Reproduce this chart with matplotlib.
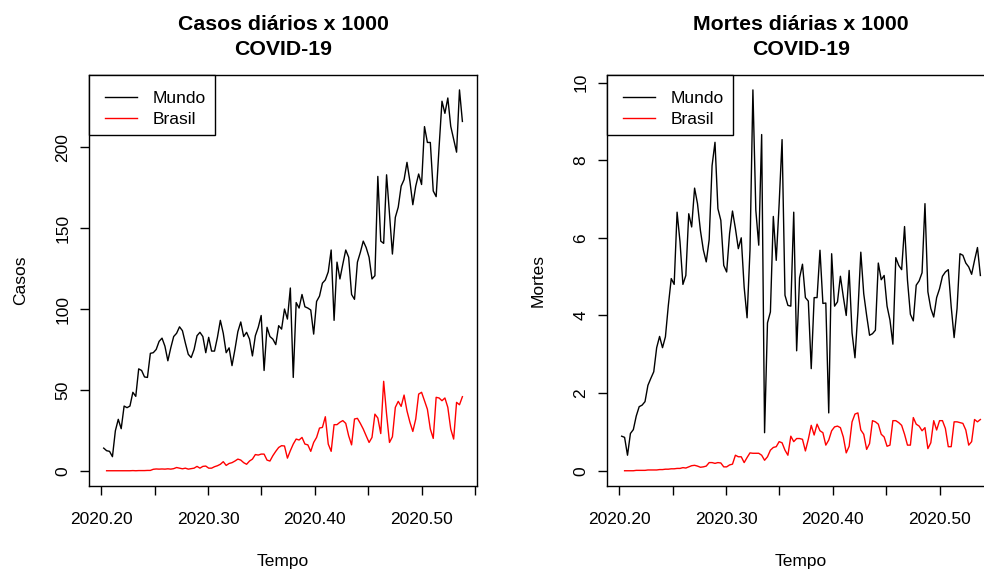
import numpy as np
import matplotlib
matplotlib.use("Agg")
import matplotlib.pyplot as plt
from matplotlib.lines import Line2D
from matplotlib.legend_handler import HandlerLine2D

plt.rcParams['font.family'] = ['Liberation Sans', 'DejaVu Sans']
plt.rcParams['font.size'] = 12.5

# datas em ano decimal (2020 tem 366 dias)
ano = 2020
dia_inicial = 74
dias_ano = 366

# casos diarios x 1000
casos_mundo = [14, 12.4, 12, 8.7, 24.7, 31.8, 26, 40, 39, 40,
               48.5, 46, 63, 62, 58, 57.7, 72.6, 73, 75, 80,
               82, 77, 68, 76, 83, 85, 89, 86.6, 79, 72,
               70, 75, 83.5, 85.6, 83, 73, 82.5, 74, 74, 82.5,
               93, 85, 73, 76, 65, 75, 86, 92, 83, 85.6,
               81.4, 71, 83.5, 88.7, 96, 62, 88.7, 83, 81.4, 78,
               89.7, 87.6, 100, 93.8, 113, 57.7, 104, 100.6, 109, 101.4,
               100.6, 99.4, 84.5, 104.7, 108, 116, 118, 123, 136.5, 93,
               129, 118.6, 127.8, 136.5, 132, 109, 106, 129, 135, 142,
               138, 132, 118.6, 120.6, 182, 142, 140.6, 183, 158.8, 134,
               156.7, 163, 176, 180, 190.7, 179, 164.5, 176, 183.5, 177,
               212.8, 203, 203, 173, 169.5, 200, 228.5, 221, 230.5, 213,
               205, 197, 235.5, 216]
casos_brasil = [0, 0, 0, 0, 0, 0, 0, 0, 0, 0.1,
                0, 0.1, 0.1, 0.1, 0.2, 0.2, 0.9, 1.1, 1.0, 1.1,
                1.0, 1.2, 1.0, 1.3, 2, 1.6, 1.2, 1.6, 1, 1.3,
                1.6, 2.7, 1.6, 2.7, 2.9, 1.6, 1.6, 2.5, 3.1, 4,
                5.6, 3.3, 4.5, 5, 6, 7.2, 6.6, 5, 4, 6,
                7.2, 10, 9.7, 10.3, 10.3, 6.6, 6, 9.3, 12, 14.4,
                15.5, 15.3, 7.8, 12.4, 16.5, 19.6, 19, 20.6, 16.5, 16,
                12, 17.5, 20.6, 26.4, 26.8, 33.4, 16.5, 12, 28.5, 28.5,
                30, 31, 29.3, 21.6, 16, 32, 32.4, 29.3, 25.8, 21.6,
                17.5, 20.6, 35, 32.6, 23, 55.3, 35, 17.5, 21, 39.2,
                42.9, 39.8, 46.8, 37, 30, 24.3, 32, 47.4, 48.5, 43.3,
                38, 25.8, 20, 45.4, 45, 43.3, 45, 39.2, 25.8, 19.6,
                42.3, 40.8, 45.8]

# mortes diarias x 1000
mortes_mundo = [0.89, 0.86, 0.40, 0.96, 1.06, 1.41, 1.65, 1.69, 1.78, 2.2,
                2.38, 2.55, 3.17, 3.46, 3.17, 3.45, 4.26, 4.95, 4.8, 6.66,
                5.9, 4.8, 5.03, 6.62, 6.28, 7.28, 6.88, 6.19, 5.69, 5.38,
                5.95, 7.86, 8.46, 6.75, 6.45, 5.29, 5.12, 6.11, 6.69, 6.24,
                5.72, 6.0, 4.73, 3.94, 5.68, 9.81, 6.71, 5.81, 8.66, 0.98,
                3.81, 4.09, 6.55, 5.42, 6.88, 8.53, 4.52, 4.26, 4.24, 6.66,
                3.09, 4.97, 5.32, 4.46, 4.37, 2.63, 4.46, 4.46, 5.68, 4.31,
                4.32, 1.49, 5.59, 4.24, 4.35, 5.01, 4.48, 4.0, 5.16, 3.55,
                2.91, 4.09, 5.63, 4.56, 4.0, 3.49, 3.53, 3.62, 5.35, 4.92,
                5.03, 4.24, 3.88, 3.26, 5.49, 5.29, 5.18, 6.29, 4.91, 4.03,
                3.86, 4.78, 4.89, 5.10, 6.88, 4.61, 4.18, 3.96, 4.46, 4.69,
                5.01, 5.12, 5.18, 4.22, 3.43, 4.18, 5.59, 5.55, 5.35, 5.25,
                5.06, 5.42, 5.75, 5.03]
mortes_brasil = [0, 0, 0, 0, 0.01, 0.01, 0.01, 0.01, 0.02, 0.02,
                 0.02, 0.02, 0.03, 0.03, 0.04, 0.04, 0.05,
                 0.05, 0.06, 0.06, 0.08, 0.07, 0.1, 0.13, 0.14, 0.12, 0.09,
                 0.1, 0.12, 0.21, 0.21, 0.19, 0.21, 0.2, 0.1, 0.1, 0.15,
                 0.17, 0.4, 0.36, 0.36, 0.21, 0.34, 0.46, 0.45, 0.45, 0.45,
                 0.4, 0.27, 0.36, 0.53, 0.6, 0.62, 0.75, 0.72, 0.53, 0.4,
                 0.89, 0.75, 0.83, 0.83, 0.81, 0.51, 0.81, 1.17, 0.92, 1.2,
                 1.03, 0.98, 0.66, 0.79, 1.03, 1.13, 1.15, 1.11, 0.87, 0.46,
                 0.63, 1.26, 1.46, 1.49, 1.05, 0.94, 0.55, 0.7, 1.29, 1.26,
                 1.2, 0.94, 0.87, 0.63, 0.66, 1.29, 1.29, 1.24, 1.17, 0.94,
                 0.66, 0.66, 1.37, 1.2, 1.15, 1.03, 1.11, 0.57, 0.72, 1.29,
                 1.05, 1.29, 1.29, 1.09, 0.62, 0.62, 1.26, 1.26, 1.24, 1.22,
                 1.05, 0.66, 0.75, 1.32, 1.26, 1.32]

x_ticks = [2020.20, 2020.25, 2020.30, 2020.35, 2020.40, 2020.45, 2020.50, 2020.55]
x_labels = ['2020.20', '', '2020.30', '', '2020.40', '', '2020.50', '']
y_ticks_casos = [0, 50, 100, 150, 200]
y_ticks_mortes = [0, 2, 4, 6, 8, 10]


def tempo(n):
    return ano + (dia_inicial + np.arange(n)) / dias_ano


def painel(ax, mundo, brasil, titulo, ylab, yticks):
    t = tempo(len(mundo))
    ax.plot(t, mundo, color='black', lw=1.0, label='Mundo')
    ax.plot(t[len(t) - len(brasil):], brasil, color='red', lw=1.0, label='Brasil')
    ax.margins(0.04)  # como o R (xaxs/yaxs = "r")

    ax.set_xticks(x_ticks)
    ax.set_xticklabels(x_labels)
    ax.set_yticks(yticks)
    ax.set_yticklabels([str(v) for v in yticks])
    ax.tick_params(direction='out', length=6.7, width=1.0, colors='black')
    ax.tick_params(axis='x', pad=12)
    ax.tick_params(axis='y', pad=7, labelrotation=90)
    plt.setp(ax.get_yticklabels(), va='center')
    for s in ax.spines.values():
        s.set_linewidth(1.0)

    ax.set_title(titulo, fontsize=15.3, fontweight='bold', linespacing=1.36, pad=14.5)
    ax.set_xlabel('Tempo')
    ax.set_ylabel(ylab)
    ax.xaxis.set_label_coords(0.5, -0.166)
    ax.yaxis.set_label_coords(-0.158, 0.5)

    # legenda no estilo do R: mais espaco a esquerda da linha
    leg = ax.legend(loc='upper left', borderaxespad=0, fancybox=False,
                    edgecolor='black', framealpha=1, handlelength=2.26,
                    handletextpad=0.9, labelspacing=0.35, borderpad=0.5,
                    title=' ', title_fontsize=0.5,
                    handler_map={Line2D: HandlerLine2D(xpad=0.42)})
    leg.get_frame().set_linewidth(1.0)


fig = plt.figure(figsize=(9.84, 5.70), dpi=100)
ax1 = fig.add_axes([0.0908, 0.1474, 0.3937, 0.7216])
ax2 = fig.add_axes([0.6172, 0.1474, 0.3937, 0.7216])  # passa da borda, como no original

painel(ax1, casos_mundo, casos_brasil, 'Casos diários x 1000\nCOVID-19', 'Casos', y_ticks_casos)
painel(ax2, mortes_mundo, mortes_brasil, 'Mortes diárias x 1000\nCOVID-19', 'Mortes', y_ticks_mortes)

fig.savefig('out.png', dpi=100)
